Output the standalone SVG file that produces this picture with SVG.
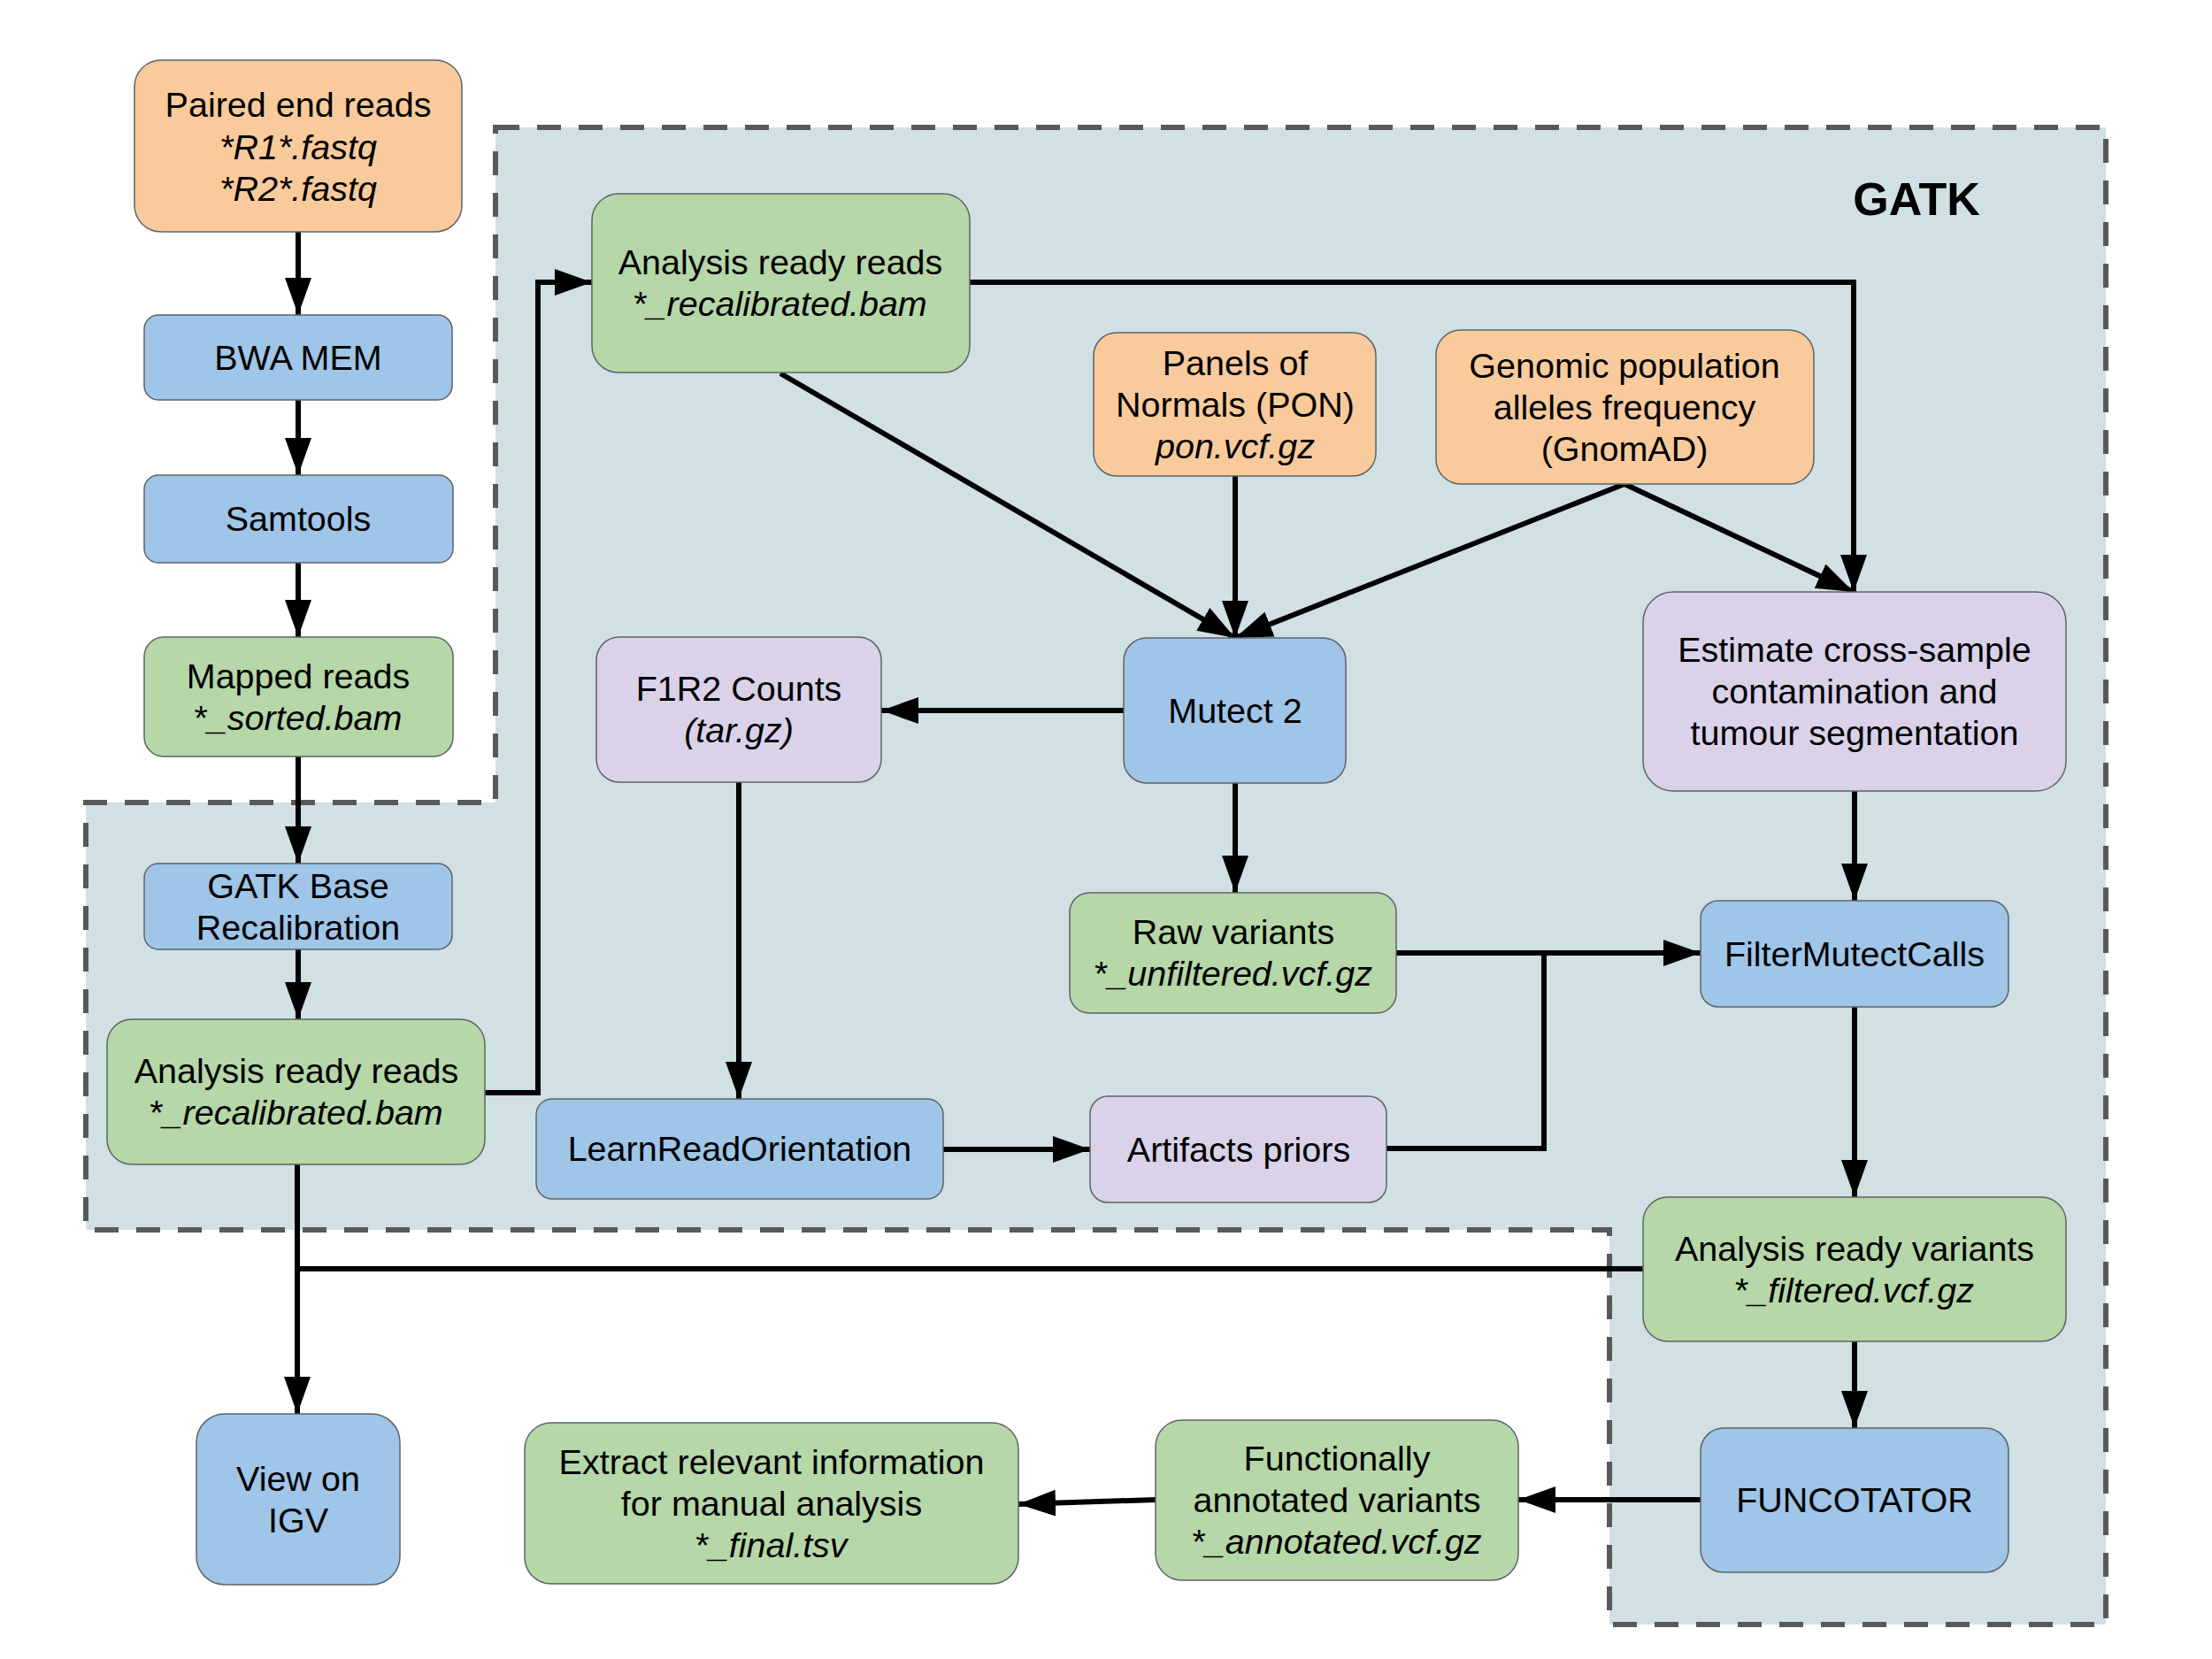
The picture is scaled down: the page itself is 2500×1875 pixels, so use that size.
<svg xmlns="http://www.w3.org/2000/svg" width="2500" height="1875" viewBox="0 0 2500 1875">
<defs>
<marker id="arr" markerUnits="userSpaceOnUse" markerWidth="44" markerHeight="32" refX="42" refY="15" orient="auto">
<path d="M0,0 L42,15 L0,30 z" fill="#000"/>
</marker>
<style>
.n rect{stroke:#5f6368;stroke-width:1.5}
.or rect{fill:#f9cb9c}
.bl rect{fill:#9fc5e8}
.gr rect{fill:#b6d7a8}
.pu rect{fill:#d9d2e9}
text{font-family:"Liberation Sans",Arial,sans-serif;font-size:39.5px;fill:#000;text-anchor:middle}
.i{font-style:italic}
.c path{fill:none;stroke:#000;stroke-width:6}
.a{marker-end:url(#arr)}
</style>
</defs>
<rect width="2500" height="1875" fill="#fff"/>
<g id="gatk-region">
<path d="M560,144 H2380 V1836 H1819 V1390 H97 V907 H560 Z" fill="#d0e0e3" stroke="#595959" stroke-width="6" stroke-dasharray="27 20"/>
<text x="2166" y="243" style="font-size:52px;font-weight:bold">GATK</text>
</g>
<g id="connectors" class="c">
<path class="a" d="M337,262 V356"/>
<path class="a" d="M337,452 V537"/>
<path class="a" d="M337,636 V720"/>
<path class="a" d="M337,855 V976"/>
<path class="a" d="M337,1073 V1152"/>
<path class="a" d="M548,1235 H608 V319 H669"/>
<path class="a" d="M1096,319 H2095 V669"/>
<path class="a" d="M882,422 L1396,721"/>
<path class="a" d="M1396,538 V721"/>
<path class="a" d="M1836,547 L1396,721"/>
<path class="a" d="M1836,547 L2095,669"/>
<path class="a" d="M1270,803 H996"/>
<path class="a" d="M1396,885 V1009"/>
<path class="a" d="M835,884 V1242"/>
<path class="a" d="M1066,1299 H1232"/>
<path class="a" d="M1578,1077 H1922"/>
<path d="M1567,1298 H1745 V1077"/>
<path class="a" d="M2096,894 V1018"/>
<path class="a" d="M2096,1138 V1353"/>
<path class="a" d="M2096,1516 V1614"/>
<path class="a" d="M1922,1695 H1716"/>
<path class="a" d="M1306,1695 L1151,1700"/>
<path class="a" d="M336,1316 V1598"/>
<path d="M1857,1434 H336"/>
</g>
<g id="paired-end-reads" class="n or">
<rect x="152" y="68" width="370" height="194" rx="30"/>
<text x="337" y="132">Paired end reads</text>
<text x="337" y="180" class="i">*R1*.fastq</text>
<text x="337" y="227" class="i">*R2*.fastq</text>
</g>
<g id="bwa-mem" class="n bl">
<rect x="163" y="356" width="348" height="96" rx="16"/>
<text x="337" y="418">BWA MEM</text>
</g>
<g id="samtools" class="n bl">
<rect x="163" y="537" width="349" height="99" rx="16"/>
<text x="337" y="600">Samtools</text>
</g>
<g id="mapped-reads" class="n gr">
<rect x="163" y="720" width="349" height="135" rx="22"/>
<text x="337" y="778">Mapped reads</text>
<text x="337" y="825">*<tspan class="i">_sorted.bam</tspan></text>
</g>
<g id="gatk-base-recalibration" class="n bl">
<rect x="163" y="976" width="348" height="97" rx="16"/>
<text x="337" y="1015">GATK Base</text>
<text x="337" y="1062">Recalibration</text>
</g>
<g id="analysis-ready-reads-1" class="n gr">
<rect x="121" y="1152" width="427" height="164" rx="28"/>
<text x="335" y="1224">Analysis ready reads</text>
<text x="335" y="1271">*<tspan class="i">_recalibrated.bam</tspan></text>
</g>
<g id="view-on-igv" class="n bl">
<rect x="222" y="1598" width="230" height="193" rx="32"/>
<text x="337" y="1685">View on</text>
<text x="337" y="1732">IGV</text>
</g>
<g id="extract-info" class="n gr">
<rect x="593" y="1608" width="558" height="182" rx="30"/>
<text x="872" y="1666">Extract relevant information</text>
<text x="872" y="1713">for manual analysis</text>
<text x="872" y="1760">*<tspan class="i">_final.tsv</tspan></text>
</g>
<g id="analysis-ready-reads-2" class="n gr">
<rect x="669" y="219" width="427" height="202" rx="30"/>
<text x="882" y="310">Analysis ready reads</text>
<text x="882" y="357">*<tspan class="i">_recalibrated.bam</tspan></text>
</g>
<g id="f1r2-counts" class="n pu">
<rect x="674" y="720" width="322" height="164" rx="26"/>
<text x="835" y="792">F1R2 Counts</text>
<text x="835" y="839" class="i">(tar.gz)</text>
</g>
<g id="learn-read-orientation" class="n bl">
<rect x="606" y="1242" width="460" height="113" rx="18"/>
<text x="836" y="1312">LearnReadOrientation</text>
</g>
<g id="panels-of-normals" class="n or">
<rect x="1236" y="376" width="319" height="162" rx="26"/>
<text x="1396" y="424">Panels of</text>
<text x="1396" y="471">Normals (PON)</text>
<text x="1396" y="518" class="i">pon.vcf.gz</text>
</g>
<g id="gnomad" class="n or">
<rect x="1623" y="373" width="427" height="174" rx="28"/>
<text x="1836" y="427">Genomic population</text>
<text x="1836" y="474">alleles frequency</text>
<text x="1836" y="521">(GnomAD)</text>
</g>
<g id="mutect2" class="n bl">
<rect x="1270" y="721" width="251" height="164" rx="26"/>
<text x="1396" y="817">Mutect 2</text>
</g>
<g id="estimate-contamination" class="n pu">
<rect x="1857" y="669" width="478" height="225" rx="34"/>
<text x="2096" y="748">Estimate cross-sample</text>
<text x="2096" y="795">contamination and</text>
<text x="2096" y="842">tumour segmentation</text>
</g>
<g id="raw-variants" class="n gr">
<rect x="1209" y="1009" width="369" height="136" rx="22"/>
<text x="1394" y="1067">Raw variants</text>
<text x="1394" y="1114">*<tspan class="i">_unfiltered.vcf.gz</tspan></text>
</g>
<g id="artifacts-priors" class="n pu">
<rect x="1232" y="1239" width="335" height="120" rx="20"/>
<text x="1400" y="1313">Artifacts priors</text>
</g>
<g id="filter-mutect-calls" class="n bl">
<rect x="1922" y="1018" width="348" height="120" rx="20"/>
<text x="2096" y="1092">FilterMutectCalls</text>
</g>
<g id="analysis-ready-variants" class="n gr">
<rect x="1857" y="1353" width="478" height="163" rx="28"/>
<text x="2096" y="1425">Analysis ready variants</text>
<text x="2096" y="1472">*<tspan class="i">_filtered.vcf.gz</tspan></text>
</g>
<g id="funcotator" class="n bl">
<rect x="1922" y="1614" width="348" height="163" rx="26"/>
<text x="2096" y="1709">FUNCOTATOR</text>
</g>
<g id="functionally-annotated" class="n gr">
<rect x="1306" y="1605" width="410" height="181" rx="30"/>
<text x="1511" y="1662">Functionally</text>
<text x="1511" y="1709">annotated variants</text>
<text x="1511" y="1756">*<tspan class="i">_annotated.vcf.gz</tspan></text>
</g>
</svg>
